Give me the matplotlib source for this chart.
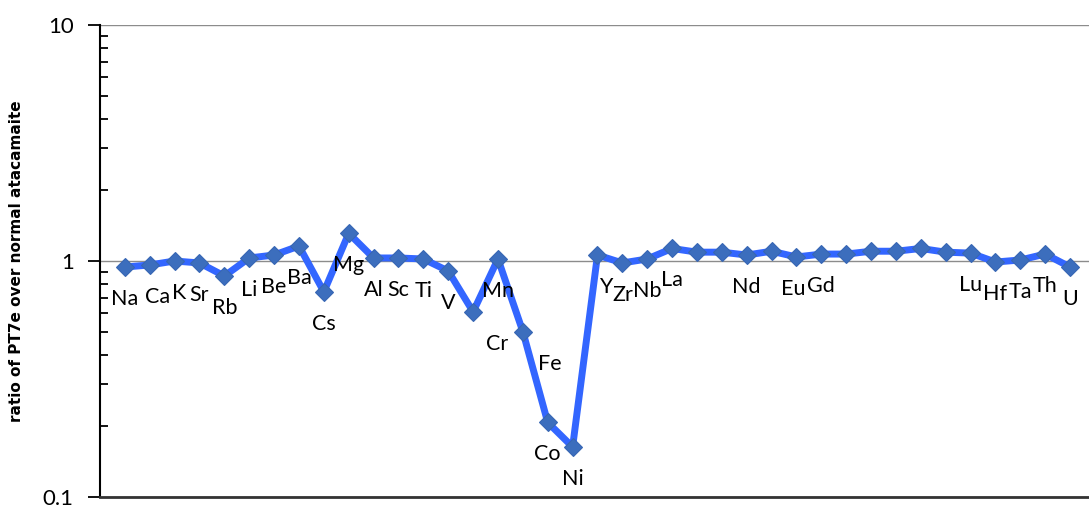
import numpy as np
import matplotlib.pyplot as plt
from matplotlib.ticker import FixedLocator, LogLocator, NullFormatter

# elements in plot order; only those in `shown` get a label
elements = ['Na', 'Ca', 'K', 'Sr', 'Rb', 'Li', 'Be', 'Ba', 'Cs', 'Mg', 'Al', 'Sc', 'Ti', 'V',
            'Cr', 'Mn', 'Fe', 'Co', 'Ni', 'Y', 'Zr', 'Nb', 'La', 'Ce', 'Pr', 'Nd', 'Sm', 'Eu',
            'Gd', 'Tb', 'Dy', 'Ho', 'Er', 'Yb', 'Lu', 'Hf', 'Ta', 'Th', 'U']
shown = ['Na', 'Ca', 'K', 'Sr', 'Rb', 'Li', 'Be', 'Ba', 'Cs', 'Mg', 'Al', 'Sc', 'Ti', 'V',
         'Cr', 'Mn', 'Fe', 'Co', 'Ni', 'Y', 'Zr', 'Nb', 'La', 'Nd', 'Eu', 'Gd',
         'Lu', 'Hf', 'Ta', 'Th', 'U']
ratio = [0.943, 0.962, 1.0, 0.981, 0.864, 1.03, 1.06, 1.157, 0.740, 1.31, 1.03, 1.03, 1.02, 0.907,
         0.609, 1.02, 0.502, 0.207, 0.163, 1.06, 0.981, 1.02, 1.13, 1.09, 1.09, 1.06, 1.10, 1.04,
         1.07, 1.07, 1.10, 1.10, 1.13, 1.09, 1.08, 0.99, 1.01, 1.07, 0.943]

# a few labels were dragged sideways in the original (pixels)
label_dx = {'Ca': 8, 'K': 5, 'Cr': 24, 'Fe': 27, 'Y': 8, 'Eu': -3}

x = np.arange(len(elements))

fig = plt.figure(figsize=(10.89, 5.07), dpi=100)
ax = fig.add_axes([100 / 1089, 10 / 507, 989 / 1089, 472 / 507])

ax.plot(x, ratio, '-', color='#3366ff', linewidth=5, zorder=3)
ax.plot(x, ratio, 'D', markersize=9.5, markerfacecolor='#3c6ebd',
        markeredgecolor='#3766b4', markeredgewidth=0.8, linestyle='none', zorder=4)

for xi, el, r in zip(x, elements, ratio):
    if el not in shown:
        continue
    dx = label_dx.get(el, 0) * 0.72
    ax.annotate(el, (xi, r), xytext=(dx, -32 * 0.72), textcoords='offset points',
                ha='center', va='center', fontsize=15.5, family='Lato', zorder=5)

ax.set_yscale('log')
ax.set_ylim(0.1, 10)
ax.set_xlim(-1.0, 38.76)

ax.yaxis.set_major_locator(FixedLocator([0.1, 1, 10]))
ax.set_yticklabels(['0.1', '1', '10'], fontsize=16, family='Lato')
ax.yaxis.set_minor_locator(LogLocator(base=10, subs=np.arange(2, 10)))
ax.yaxis.set_minor_formatter(NullFormatter())
ax.tick_params(axis='y', which='major', direction='out', length=9, width=1.3, pad=10)
ax.tick_params(axis='y', which='minor', direction='in', length=6, width=1.3)
ax.tick_params(axis='x', bottom=False, labelbottom=False)

ax.yaxis.grid(True, which='major', color='#8c8c8c', linewidth=1.0)
ax.set_axisbelow(True)

for side in ['top', 'right']:
    ax.spines[side].set_visible(False)
ax.spines['left'].set_linewidth(1.5)
ax.spines['bottom'].set_linewidth(2)
ax.spines['bottom'].set_color('#333333')

ax.set_ylabel('ratio of PT7e over normal atacamaite', fontsize=11, fontweight='bold')
ax.yaxis.set_label_coords(-0.077, 0.5)

fig.savefig('out.png', dpi=100)
